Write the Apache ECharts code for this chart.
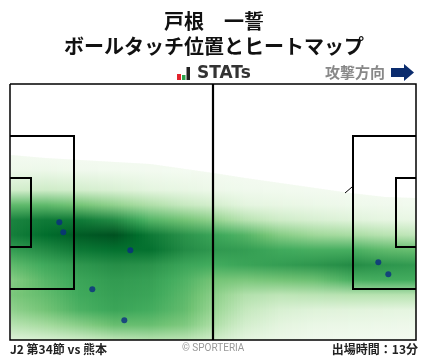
<!DOCTYPE html>
<html><head><meta charset="utf-8">
<style>html,body{margin:0;padding:0;background:#fff}#c{width:428px;height:359px}</style>
<script src="https://cdn.jsdelivr.net/npm/echarts@6/dist/echarts.min.js"></script>
</head><body><div id="c"></div>
<script>
// Pitch units: x 0..406, y 0..256 (y downward)
const heatCols = [1,35,70,105,140,175,203,235,270,305,340,375,406];
const heatRows = [66,86,106,121,136,151,166,181,196,211,226,241,256];
const heatEdge = [71,74,76,78,80,85,89,94,99,104,109,113,114];
const colA = [.03,.06,.2,.55,.78,.8,.68,.55,.45,.48,.42,.3,.15];
const colB = [.03,.07,.22,.55,.82,.87,.75,.63,.57,.54,.5,.36,.18];
const colC = [.03,.05,.2,.5,.82,.93,.83,.7,.65,.63,.6,.44,.22];
const colD = [.03,.04,.17,.42,.75,.96,.86,.74,.69,.67,.65,.53,.28];
const colE = [.03,.03,.13,.33,.58,.83,.86,.72,.67,.65,.62,.53,.31];
const colF = [.03,.02,.1,.25,.5,.72,.75,.65,.59,.56,.54,.47,.29];
const colG = [.02,.02,.07,.2,.42,.65,.7,.62,.5,.44,.4,.34,.22];
const colH = [.02,.02,.05,.13,.3,.58,.68,.65,.48,.32,.26,.2,.13];
const colI = [.02,.02,.04,.1,.22,.45,.63,.68,.5,.28,.18,.13,.08];
const colJ = [.02,.02,.03,.08,.18,.38,.61,.71,.52,.29,.15,.09,.05];
const colK = [.02,.02,.03,.06,.15,.35,.61,.75,.6,.3,.14,.08,.04];
const colL = [.02,.02,.03,.05,.12,.3,.55,.71,.62,.3,.13,.07,.03];
const colM = [.02,.02,.03,.04,.1,.27,.53,.69,.62,.3,.12,.06,.03];
const heatValues = [colA,colB,colC,colD,colE,colF,colG,colH,colI,colJ,colK,colL,colM];
const greens = ['#f7fcf5','#e5f5e0','#c7e9c0','#a1d99b','#74c476','#41ab5d','#238b45','#006d2c','#00441b'];

const touchX = [49.3,53.3,120.3,82.3,114.3,368.3,378.3];
const touchY = [138.3,148.3,166.3,205.3,236.3,178.3,190.3];

const frame = [[0,0],[406,0],[406,256],[0,256],[0,0]];
const centerLine = [[203,0],[203,256]];
const boxLeft = [[0,52],[64,52],[64,205],[0,205]];
const goalLeft = [[0,94],[21,94],[21,163],[0,163]];
const boxRight = [[406,52],[343,52],[343,205],[406,205]];
const goalRight = [[406,94],[386,94],[386,163],[406,163]];
const tickMark = [[335,109],[342,103]];

const titleLine1 = '戸根　一誓';
const titleLine2 = 'ボールタッチ位置とヒートマップ';
const statsLabel = 'STATs';
const directionLabel = '攻撃方向';
const matchLabel = 'J2 第34節 vs 熊本';
const copyLabel = '© SPORTERIA';
const timeLabel = '出場時間：13分';

const JP = '"Noto Sans CJK JP"';
function rampColor(v){
  const p = Math.max(0,Math.min(1,v))*(greens.length-1), i = Math.min(Math.floor(p),greens.length-2), f = p-i;
  const h = s=>[1,3,5].map(k=>parseInt(s.substr(k,2),16));
  const a=h(greens[i]), b=h(greens[i+1]);
  return 'rgb('+a.map((c,k)=>Math.round(c+(b[k]-c)*f)).join(',')+')';
}
function renderHeat(params, api){
  const i = api.value(0), x0 = heatCols[i], x1 = heatCols[i+1];
  const children = [], step = 3;
  for(let x=x0;x<x1;x+=step){
    const f = (x+step/2-x0)/(x1-x0);
    const edge = heatEdge[i]+(heatEdge[i+1]-heatEdge[i])*f;
    const tl = api.coord([x,edge]), br = api.coord([Math.min(x+step,x1),256]);
    const h = br[1]-tl[1];
    const stops = [{offset:0,color:rampColor(.03)}];
    heatRows.forEach((r,j)=>{
      if(r<=edge) return;
      const v = heatValues[i][j]+(heatValues[i+1][j]-heatValues[i][j])*f;
      stops.push({offset:(r-edge)/(256-edge),color:rampColor(v)});
    });
    children.push({type:'rect',shape:{x:tl[0],y:tl[1],width:br[0]-tl[0]+0.6,height:h},
      style:{fill:new echarts.graphic.LinearGradient(0,0,0,1,stops)}});
  }
  return {type:'group',children};
}
function pathSeries(points,width,z){
  return {type:'custom',coordinateSystem:'cartesian2d',z,silent:true,clip:false,
    data:[0],encode:{x:[],y:[]},
    renderItem:(p,api)=>({type:'polyline',shape:{points:points.map(q=>api.coord(q))},
      style:{fill:null,stroke:'#000',lineWidth:width,lineJoin:'miter'}})};
}
const chart = echarts.init(document.getElementById('c'),null,{renderer:'canvas'});
chart.setOption({
  animation:false,backgroundColor:'#fff',
  grid:{left:10,top:84,width:406,height:256},
  xAxis:{type:'value',min:0,max:406,show:false},
  yAxis:{type:'value',min:0,max:256,inverse:true,show:false},
  title:[
    {text:titleLine1,left:'center',top:9,padding:0,textStyle:{fontFamily:JP,fontSize:20,fontWeight:'bold',color:'#111',lineHeight:24}},
    {text:titleLine2,left:'center',top:34,padding:0,textStyle:{fontFamily:JP,fontSize:20,fontWeight:'bold',color:'#111',lineHeight:24}},
    {text:statsLabel,left:197,top:65,padding:0,textStyle:{fontFamily:'"DejaVu Sans"',fontSize:17,fontWeight:'bold',color:'#333',lineHeight:18}},
    {text:directionLabel,left:325,top:62,padding:0,textStyle:{fontFamily:JP,fontSize:15,fontWeight:'bold',color:'#888',lineHeight:20}},
    {text:matchLabel,left:10,top:342,padding:0,textStyle:{fontFamily:JP,fontSize:12,fontWeight:'bold',color:'#222',lineHeight:15}},
    {text:copyLabel,left:182,top:342,padding:0,textStyle:{fontFamily:'"Roboto"',fontSize:10,fontWeight:'normal',color:'#999',lineHeight:12}},
    {text:timeLabel,right:10,top:342,padding:0,textStyle:{fontFamily:JP,fontSize:12,fontWeight:'bold',color:'#222',lineHeight:15}}
  ],
  graphic:[
    {type:'rect',shape:{x:177,y:74,width:4,height:6},style:{fill:'#e3232c'}},
    {type:'rect',shape:{x:182,y:75,width:3.5,height:5},style:{fill:'#2ca24a'}},
    {type:'rect',shape:{x:186.5,y:67,width:3.5,height:13},style:{fill:'#222'}},
    {type:'polygon',shape:{points:[[391,68],[404,68],[404,64],[414,72.5],[404,81],[404,77],[391,77]]},style:{fill:'#0b2c6e'}}
  ],
  series:[
    {type:'custom',coordinateSystem:'cartesian2d',z:1,silent:true,clip:true,
     data:heatCols.slice(0,-1).map((c,i)=>[i]),encode:{x:[],y:[]},renderItem:renderHeat},
    pathSeries(frame,1.5,3),
    pathSeries(centerLine,2.2,3),
    pathSeries(boxLeft,2,3),
    pathSeries(goalLeft,2,3),
    pathSeries(boxRight,2,3),
    pathSeries(goalRight,2,3),
    pathSeries(tickMark,1,3),
    {type:'scatter',z:5,silent:true,symbolSize:6,itemStyle:{color:'#0a2d82'},
     data:touchX.map((x,i)=>[x,touchY[i]])}
  ]
});
</script></body></html>
